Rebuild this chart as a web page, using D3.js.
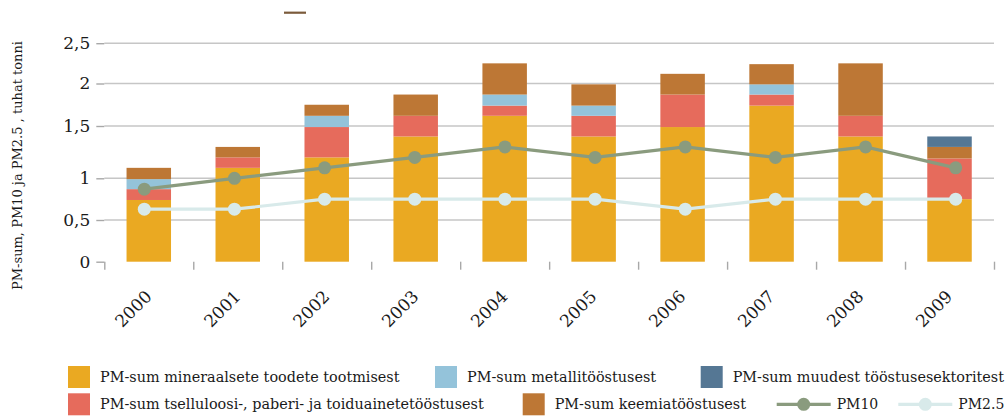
<!DOCTYPE html>
<html>
<head>
<meta charset="utf-8">
<script src="https://cdn.jsdelivr.net/npm/d3@7"></script>
<style>
  html, body { margin: 0; padding: 0; background: #fff; }
  svg { display: block; }
  text { font-family: "DejaVu Serif", "Liberation Serif", serif; fill: #1a1a1a; }
</style>
</head>
<body>
<svg id="chart" width="1006" height="419"></svg>
<script>
// ---- data ----
const years = ["2000","2001","2002","2003","2004","2005","2006","2007","2008","2009"];
const mineraal   = [0.74, 1.10, 1.20, 1.40, 1.62, 1.40, 1.49, 1.74, 1.40, 0.75];
const tselluloos = [0.13, 0.10, 0.29, 0.22, 0.12, 0.22, 0.38, 0.13, 0.22, 0.44];
const metall     = [0.12, 0.00, 0.13, 0.00, 0.13, 0.12, 0.00, 0.12, 0.00, 0.00];
const keemia     = [0.11, 0.10, 0.13, 0.25, 0.38, 0.25, 0.25, 0.25, 0.63, 0.11];
const muud       = [0.00, 0.00, 0.00, 0.00, 0.00, 0.00, 0.00, 0.00, 0.00, 0.10];
const pm10       = [0.87, 1.00, 1.10, 1.20, 1.30, 1.20, 1.30, 1.20, 1.30, 1.10];
const pm25       = [0.63, 0.63, 0.75, 0.75, 0.75, 0.75, 0.63, 0.75, 0.75, 0.75];
const yTicks = [0, 0.5, 1, 1.5, 2, 2.5];
const yTitle = "PM-sum, PM10 ja PM2.5 , tuhat tonni";

const seriesKeys  = ["mineraal", "tselluloos", "metall", "keemia", "muud"];
const seriesNames = {
  mineraal: "PM-sum mineraalsete toodete tootmisest",
  tselluloos: "PM-sum tselluloosi-, paberi- ja toiduainetetööstusest",
  metall: "PM-sum metallitööstusest",
  keemia: "PM-sum keemiatööstusest",
  muud: "PM-sum muudest tööstusesektoritest"
};
const colors = {
  mineraal: "#eaa922", tselluloos: "#e66b5c", metall: "#94c3da",
  keemia: "#bd7735", muud: "#557794", pm10: "#8a9b7e", pm25: "#d8eaea"
};

const table = years.map((y, i) => ({
  year: y, mineraal: mineraal[i], tselluloos: tselluloos[i], metall: metall[i],
  keemia: keemia[i], muud: muud[i]
}));

// ---- layout ----
const svg = d3.select("#chart");
const plotLeft = 104.3, plotRight = 994;

const x = d3.scaleBand().domain(years).range([plotLeft, plotRight])
  .paddingInner(0.5).paddingOuter(0.25);
const xp = d3.scalePoint().domain(years).range([144.3, 955.7]);
const xEdge = d3.scaleLinear().domain([0, years.length]).range([plotLeft, plotRight]);
const y = d3.scaleLinear().domain(yTicks).range([261.7, 220, 178.3, 126, 83.5, 43.2]);

// stray mark at top
svg.append("line").attr("x1", 284).attr("x2", 306).attr("y1", 12.7).attr("y2", 12.7)
  .attr("stroke", "#7b5b3b").attr("stroke-width", 2.2);

// gridlines
svg.append("g").selectAll("line").data(yTicks.filter(d => d > 0)).join("line")
  .attr("x1", plotLeft).attr("x2", plotRight)
  .attr("y1", d => y(d)).attr("y2", d => y(d))
  .attr("stroke", "#c6c6c6").attr("stroke-width", 1.4);

// y axis
const yAxis = svg.append("g").attr("transform", `translate(${plotLeft},0)`)
  .call(d3.axisLeft(y).tickValues(yTicks).tickSize(8).tickPadding(6)
    .tickFormat(d => String(d).replace(".", ",")));
yAxis.select(".domain").remove();
yAxis.selectAll("line").attr("stroke", "#a8a8a8").attr("stroke-width", 1.4);
yAxis.selectAll("text").style("font-size", "17px").style("font-family", "DejaVu Serif").attr("fill", "#1a1a1a");

// x axis tick marks
const xAxis = svg.append("g").attr("transform", `translate(0,${y(0)})`)
  .call(d3.axisBottom(xEdge).tickValues(d3.range(years.length + 1)).tickSize(8).tickFormat(""));
xAxis.select(".domain").remove();
xAxis.selectAll("line").attr("stroke", "#a8a8a8").attr("stroke-width", 1.4);

// year labels
svg.append("g").selectAll("text").data(years).join("text")
  .attr("transform", d => `translate(${x(d) + x.bandwidth() / 2 + 4},${y(0) + 36}) rotate(-45)`)
  .attr("text-anchor", "end")
  .style("font-size", "17px")
  .text(d => d);

// stacked bars
const stack = d3.stack().keys(seriesKeys)(table);
svg.append("g").selectAll("g").data(stack).join("g")
  .attr("fill", s => colors[s.key])
  .selectAll("rect").data(s => s.filter(d => d[1] - d[0] > 0)).join("rect")
  .attr("x", d => x(d.data.year))
  .attr("width", x.bandwidth())
  .attr("y", d => y(d[1]))
  .attr("height", d => y(d[0]) - y(d[1]));

// lines
function drawLine(vals, color) {
  const pts = years.map((yr, i) => [xp(yr), y(vals[i])]);
  svg.append("path").attr("d", d3.line()(pts))
    .attr("fill", "none").attr("stroke", color).attr("stroke-width", 3.2);
  svg.append("g").selectAll("circle").data(pts).join("circle")
    .attr("cx", d => d[0]).attr("cy", d => d[1]).attr("r", 6.5).attr("fill", color);
}
drawLine(pm10, colors.pm10);
drawLine(pm25, colors.pm25);

// y title
svg.append("text")
  .attr("transform", `translate(22,${(43 + 288) / 2}) rotate(-90)`)
  .attr("text-anchor", "middle")
  .style("font-size", "13px")
  .text(yTitle);

// legend
const legendBoxes = [
  { key: "mineraal", x: 68, row: 0 },
  { key: "metall", x: 435, row: 0 },
  { key: "muud", x: 700.7, row: 0 },
  { key: "tselluloos", x: 68, row: 1 },
  { key: "keemia", x: 522.7, row: 1 }
];
const rowTop = [366, 393.3];
const lg = svg.append("g");
legendBoxes.forEach(b => {
  lg.append("rect").attr("x", b.x).attr("y", rowTop[b.row]).attr("width", 22).attr("height", 22)
    .attr("fill", colors[b.key]);
  lg.append("text").attr("x", b.x + 32).attr("y", rowTop[b.row] + 16)
    .style("font-size", "14.4px").text(seriesNames[b.key]);
});
const legendLines = [
  { key: "pm10", label: "PM10", x: 776.7 },
  { key: "pm25", label: "PM2.5", x: 898.3 }
];
legendLines.forEach(b => {
  const cy = rowTop[1] + 11;
  lg.append("line").attr("x1", b.x).attr("x2", b.x + 54).attr("y1", cy).attr("y2", cy)
    .attr("stroke", colors[b.key]).attr("stroke-width", 3.2);
  lg.append("circle").attr("cx", b.x + 27).attr("cy", cy).attr("r", 6.5).attr("fill", colors[b.key]);
  lg.append("text").attr("x", b.x + 60).attr("y", rowTop[1] + 16)
    .style("font-size", "14px").text(b.label);
});
</script>
</body>
</html>
